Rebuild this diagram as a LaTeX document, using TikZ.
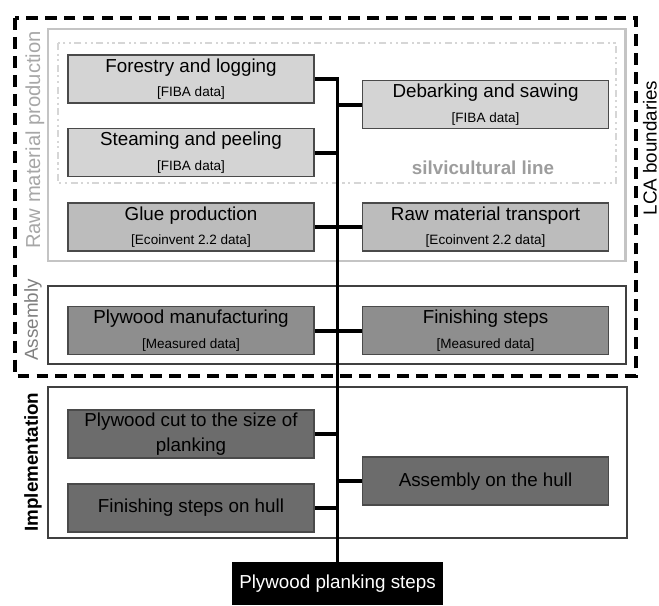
\documentclass[tikz,border=0pt]{standalone}
\usepackage{fontspec}
\setmainfont{Liberation Sans}
\usetikzlibrary{positioning}

\definecolor{rawfill}{HTML}{D4D4D4}
\definecolor{gluefill}{HTML}{BCBCBC}
\definecolor{asmfill}{HTML}{8E8E8E}
\definecolor{impfill}{HTML}{6C6C6C}
\definecolor{boxline}{HTML}{4A4A4A}
\definecolor{rawframe}{HTML}{C4C4C4}
\definecolor{silviframe}{HTML}{D6D6D6}
\definecolor{frameline}{HTML}{404040}

\newcommand{\mainsize}{\fontsize{10.7}{14}\selectfont}
\newcommand{\subsize}{\fontsize{7.7}{10}\selectfont}

\tikzset{
  stepbox/.style={draw=boxline, line width=0.9pt, minimum width=4.92cm,
    minimum height=0.96cm, inner sep=1pt, align=center, font=\mainsize},
  rawbox/.style={stepbox, fill=rawfill},
  gluebox/.style={stepbox, fill=gluefill},
  asmbox/.style={stepbox, fill=asmfill},
  impbox/.style={stepbox, fill=impfill},
  trunk/.style={line width=2.2pt, black},
  sidelabel/.style={rotate=90, font=\mainsize},
}

\begin{document}
\begin{tikzpicture}[x=0.02cm, y=-0.02cm, node distance=0.48cm]%
    \useasboundingbox (0,0) rectangle (659,605);
    % frames
    \draw[line width=2pt, dash pattern=on 6.8pt off 4pt] (15,18) rectangle (636,376);
    \draw[rawframe, line width=1.7pt] (48,29) rectangle (625,261);
    \draw[silviframe, line width=1.1pt, dash pattern=on 4pt off 2pt on 1.2pt off 2pt on 1.2pt off 2pt] (58,43) rectangle (616,183);
    \draw[frameline, line width=1.4pt] (48,286) rectangle (626,364);
    \draw[frameline, line width=1.4pt] (48,387) rectangle (627,538);
    % steps
    \node (forestry) [rawbox] at (191,79) {Forestry and logging\\{\subsize [FIBA data]}};
    \node (steaming) [rawbox, below=of forestry] {Steaming and peeling\\{\subsize [FIBA data]}};
    \node (glue) [gluebox, below=0.5cm of steaming] {Glue production\\{\subsize [Ecoinvent 2.2 data]}};
    \node (transport) [gluebox, right=0.94cm of glue] {Raw material transport\\{\subsize [Ecoinvent 2.2 data]}};
    \node (debark) [rawbox, above=1.46cm of transport] {Debarking and sawing\\{\subsize [FIBA data]}};
    \node (plymanu) [asmbox, below=1.08cm of glue] {Plywood manufacturing\\{\subsize [Measured data]}};
    \node (finish) [asmbox, right=0.94cm of plymanu] {Finishing steps\\{\subsize [Measured data]}};
    \node (plycut) [impbox, below=1.08cm of plymanu] {Plywood cut to the size of\\planking};
    \node (finhull) [impbox, below=of plycut] {Finishing steps on hull};
    \node (asmhull) [impbox, below=2.02cm of finish] {Assembly on the hull};
    \node (plank) [fill=black, text=white, font=\mainsize, minimum width=4.22cm,
        minimum height=0.86cm, inner sep=1pt] at (337.5,583.5) {Plywood planking steps};
    % labels
    \node (silvi) [text=rawframe!80!black, font=\mainsize\bfseries] at (483,168) {silvicultural line};
    \node (rawlabel) [sidelabel, text=rawframe!85!black, font=\fontsize{11.5}{14}\selectfont] at (35,140) {Raw material production};
    \node (asmlabel) [sidelabel, text=gray] at (33,320) {Assembly};
    \node (implabel) [sidelabel, font=\mainsize\bfseries] at (33,462) {Implementation};
    \node (lcalabel) [sidelabel] at (650,148) {LCA boundaries};
    % connectors
    \draw[trunk] (forestry.east) -- (forestry.east -| plank.north) -- (plank.north);
    \foreach \n in {steaming, glue, plymanu, plycut, finhull}
        \draw[trunk] (\n.east) -- (\n.east -| plank.north);
    \foreach \n in {debark, transport, finish, asmhull}
        \draw[trunk] (\n.west) -- (\n.west -| plank.north);
\end{tikzpicture}
\end{document}
